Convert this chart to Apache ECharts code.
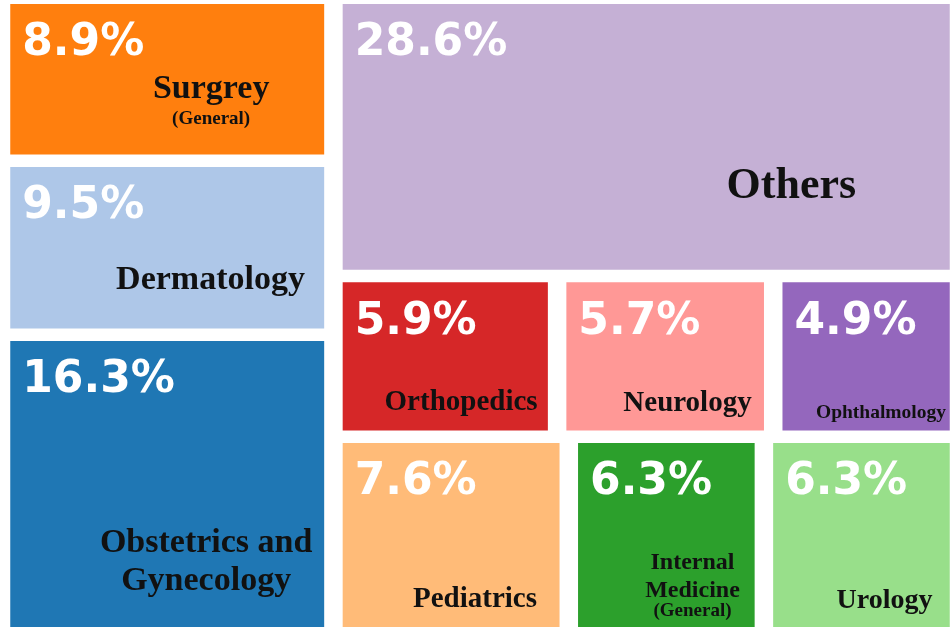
<!DOCTYPE html>
<html>
<head>
<meta charset="utf-8">
<title>Departments</title>
<script src="https://cdn.jsdelivr.net/npm/echarts@6/dist/echarts.min.js"></script>
<style>
    html, body { margin: 0; padding: 0; background: #fff; }
    #chart { width: 950px; height: 627px; }
</style>
</head>
<body>
<div id="chart"></div>
<script>
// shares in percent, grouped the way the blocks are stacked
var leftCats = ['Surgrey\n(General)', 'Dermatology', 'Obstetrics and\nGynecology'];
var leftShares = [8.9, 9.5, 16.3];
var topCats = ['Others'];
var topShares = [28.6];
var midCats = ['Orthopedics', 'Neurology', 'Ophthalmology'];
var midShares = [5.9, 5.7, 4.9];
var lowCats = ['Pediatrics', 'Internal\nMedicine\n(General)', 'Urology'];
var lowShares = [7.6, 6.3, 6.3];

var leftColors = ['#ff7f0e', '#aec7e8', '#1f77b4'];
var topColors = ['#c5b0d5'];
var midColors = ['#d62728', '#ff9896', '#9467bd'];
var lowColors = ['#ffbb78', '#2ca02c', '#98df8a'];

// where the name sits inside its cell, and [fontSize, lineHeight] per line
var nameSpots = {
    'Surgrey\n(General)': {at: ['64%', '42.7%'], lines: [[34, 34], [19, 25]]},
    'Dermatology': {at: ['63.8%', '57.1%'], lines: [[34, 34]]},
    'Obstetrics and\nGynecology': {at: ['62.4%', '62.6%'], lines: [[34, 38], [34, 38]]},
    'Others': {at: ['73.9%', '59.1%'], lines: [[44, 44]]},
    'Orthopedics': {at: ['57.7%', '68.5%'], lines: [[29, 29]]},
    'Neurology': {at: ['61.3%', '69.1%'], lines: [[29, 29]]},
    'Ophthalmology': {at: ['58.9%', '78.6%'], lines: [[19.5, 19.5]]},
    'Pediatrics': {at: ['61%', '74.8%'], lines: [[29, 29]]},
    'Internal\nMedicine\n(General)': {at: ['64.8%', '55.2%'], lines: [[24, 28], [24, 28], [19, 14]]},
    'Urology': {at: ['63.1%', '75.8%'], lines: [[28, 28]]}
};

var frame = {x: 1, y: -2.25, w: 958, h: 635.5};
var hGap = 18.5, vGap = 12.5;
var clear = 'rgba(0,0,0,0)';

function sum(arr) {
    return arr.reduce(function (s, v) { return s + v }, 0);
}

var total = sum(leftShares) + sum(topShares) + sum(midShares) + sum(lowShares);
var leftW = frame.w * sum(leftShares) / total;
var rightW = frame.w - leftW;
var rightTotal = sum(topShares) + sum(midShares) + sum(lowShares);

function nameLabel(name) {
    var spot = nameSpots[name];
    var rich = {};
    spot.lines.forEach(function (l, i) {
        rich['l' + i] = {
            fontFamily: 'Liberation Serif',
            fontWeight: 'bold',
            fontSize: l[0],
            lineHeight: l[1],
            color: '#111',
            align: 'center'
        };
    });
    return {position: spot.at, offset: [0, 4], align: 'center', verticalAlign: 'top', rich: rich};
}

function box(x, y, w, h) {
    return {left: x + hGap / 2, top: y + vGap / 2, width: w - hGap, height: h - vGap};
}

// two stacked treemaps per block: one paints cells + percent, one writes names
function makeSeries(id, cats, shares, colors, rect, gap) {
    var common = {
        type: 'treemap',
        left: rect.left, top: rect.top, width: rect.width, height: rect.height,
        sort: false,
        squareRatio: 0.01,
        roam: false,
        nodeClick: false,
        breadcrumb: {show: false},
        animation: false
    };
    var cells = Object.assign({}, common, {
        name: id,
        itemStyle: {gapWidth: gap, borderWidth: 0, borderColor: '#fff'},
        levels: [{itemStyle: {gapWidth: gap, borderWidth: 0, borderColor: '#fff'}}],
        label: {
            show: true,
            position: 'insideTopLeft',
            distance: 0,
            padding: [18, 0, 0, 12],
            fontFamily: 'DejaVu Sans',
            fontWeight: 'bold',
            fontSize: 44,
            lineHeight: 44,
            color: '#fff',
            formatter: function (p) { return p.value.toFixed(1) + '%' }
        },
        data: cats.map(function (c, i) {
            return {name: c, value: shares[i], itemStyle: {color: colors[i]}};
        })
    });
    var names = Object.assign({}, common, {
        name: id + '-names',
        color: [clear],
        itemStyle: {gapWidth: gap, borderWidth: 0, color: clear, borderColor: clear},
        levels: [{itemStyle: {gapWidth: gap, borderWidth: 0, borderColor: clear}, color: [clear]}],
        label: {
            show: true,
            distance: 0,
            padding: 0,
            formatter: function (p) {
                return p.name.split('\n').map(function (t, i) { return '{l' + i + '|' + t + '}' }).join('\n');
            }
        },
        data: cats.map(function (c, i) {
            return {name: c, value: shares[i], itemStyle: {color: clear}, label: nameLabel(c)};
        })
    });
    return [cells, names];
}

var topH = frame.h * sum(topShares) / rightTotal;
var midH = frame.h * sum(midShares) / rightTotal;
var lowH = frame.h * sum(lowShares) / rightTotal;
var rx = frame.x + leftW;

var series = [].concat(
    makeSeries('left', leftCats, leftShares, leftColors, box(frame.x, frame.y, leftW, frame.h), vGap),
    makeSeries('top', topCats, topShares, topColors, box(rx, frame.y, rightW, topH), hGap),
    makeSeries('mid', midCats, midShares, midColors, box(rx, frame.y + topH, rightW, midH), hGap),
    makeSeries('low', lowCats, lowShares, lowColors, box(rx, frame.y + topH + midH, rightW, lowH), hGap)
);

var chart = echarts.init(document.getElementById('chart'));
chart.setOption({
    backgroundColor: '#fff',
    tooltip: {show: false},
    series: series
});
</script>
</body>
</html>
